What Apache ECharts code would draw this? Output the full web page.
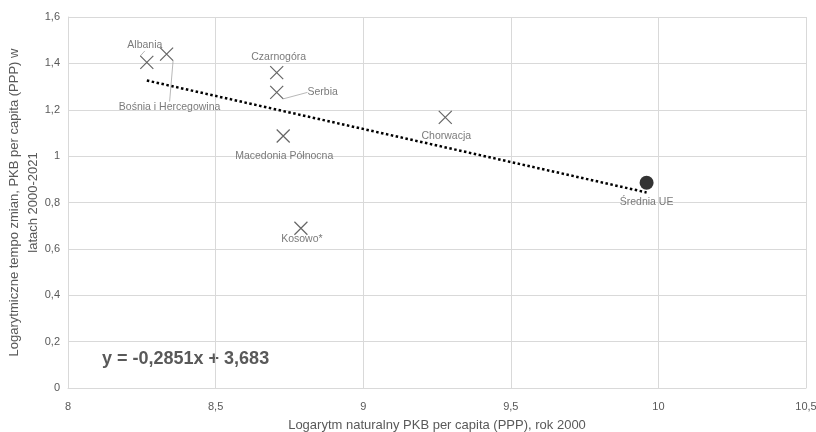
<!DOCTYPE html>
<html>
<head>
<meta charset="utf-8">
<script src="https://cdn.jsdelivr.net/npm/echarts@6/dist/echarts.min.js"></script>
<style>html,body{margin:0;padding:0;background:#fff}#c{width:816px;height:432px}</style>
</head>
<body>
<div id="c"></div>
<script>
// ---- data ----
const countries = ['Albania', 'Bośnia i Hercegowina', 'Czarnogóra', 'Serbia', 'Macedonia Północna', 'Chorwacja', 'Kosowo*'];
const gdp2000 = [8.267, 8.334, 8.707, 8.707, 8.729, 9.278, 8.789];
const growth = [1.404, 1.440, 1.360, 1.275, 1.087, 1.167, 0.689];
const euName = ['Średnia UE'];
const euGdp2000 = [9.960];
const euGrowth = [0.885];
const trendSlope = -0.2851;
const trendIntercept = 3.683;
const trendText = 'y = -0,2851x + 3,683';
const xTicks = [8, 8.5, 9, 9.5, 10, 10.5];
const yTicks = [0, 0.2, 0.4, 0.6, 0.8, 1, 1.2, 1.4, 1.6];

// ---- layout (label offsets in px from the mark) ----
const labelDx = [-2, 3, 2, 46, 1, 1, 1];
const labelDy = [-17, 53, -16, 0, 20, 19, 11];
const leader = [true, true, false, true, false, false, false];

const font = '"Liberation Sans", Arial, sans-serif';
const grey = '#595959';
const fmt = v => String(v).replace('.', ',');

const allX = gdp2000.concat(euGdp2000);
const tx0 = Math.min(...allX), tx1 = Math.max(...allX);
const trend = [[tx0, trendSlope * tx0 + trendIntercept], [tx1, trendSlope * tx1 + trendIntercept]];

const chart = echarts.init(document.getElementById('c'), null, {renderer: 'canvas'});
chart.setOption({
  animation: false,
  textStyle: {fontFamily: font},
  grid: {left: 68, right: 10, top: 17, bottom: 44, containLabel: false, outerBoundsMode: 'none'},
  xAxis: {
    type: 'value', min: xTicks[0], max: xTicks[xTicks.length - 1], interval: 0.5,
    axisLine: {show: true, lineStyle: {color: '#d9d9d9'}},
    axisTick: {show: false},
    splitLine: {lineStyle: {color: '#d9d9d9'}},
    axisLabel: {color: grey, fontSize: 11, margin: 13, formatter: fmt},
    name: 'Logarytm naturalny PKB per capita (PPP), rok 2000',
    nameLocation: 'middle', nameGap: 31,
    nameTextStyle: {color: grey, fontSize: 13}
  },
  yAxis: {
    type: 'value', min: yTicks[0], max: yTicks[yTicks.length - 1], interval: 0.2,
    axisLine: {show: true, lineStyle: {color: '#d9d9d9'}},
    axisTick: {show: false},
    splitLine: {lineStyle: {color: '#d9d9d9'}},
    axisLabel: {color: grey, fontSize: 11, margin: 8, formatter: fmt},
    name: 'Logarytmiczne tempo zmian, PKB per capita (PPP) w\nlatach 2000-2021',
    nameLocation: 'middle', nameGap: 25, nameMoveOverlap: false,
    nameTextStyle: {color: grey, fontSize: 13, lineHeight: 19}
  },
  graphic: [{
    type: 'text', left: 102, top: 350,
    style: {text: trendText, fill: grey, font: 'bold 18px ' + font}
  }],
  series: [
    {
      type: 'line', data: trend, symbol: 'none', z: 1,
      lineStyle: {color: '#000', width: 2.5, type: [2.5, 2.5]}
    },
    {
      type: 'scatter', z: 3,
      symbol: 'path://M0,0L10,10M10,0L0,10', symbolSize: 13,
      itemStyle: {color: 'rgba(0,0,0,0)', borderColor: '#404040', borderWidth: 1.2},
      data: countries.map((n, i) => ({name: n, value: [gdp2000[i], growth[i]], labelLine: {show: leader[i]}})),
      label: {show: true, position: 'inside', formatter: p => p.name, color: grey, fontSize: 10.5},
      labelLine: {show: true, smooth: false, lineStyle: {color: '#a6a6a6', width: 0.8}},
      labelLayout: p => ({dx: labelDx[p.dataIndex], dy: labelDy[p.dataIndex]})
    },
    {
      type: 'scatter', z: 3, symbol: 'circle', symbolSize: 14,
      itemStyle: {color: '#000'},
      data: euName.map((n, i) => ({name: n, value: [euGdp2000[i], euGrowth[i]]})),
      label: {show: true, position: 'bottom', distance: 7, formatter: p => p.name, color: grey, fontSize: 10.5}
    }
  ]
});
</script>
</body>
</html>
